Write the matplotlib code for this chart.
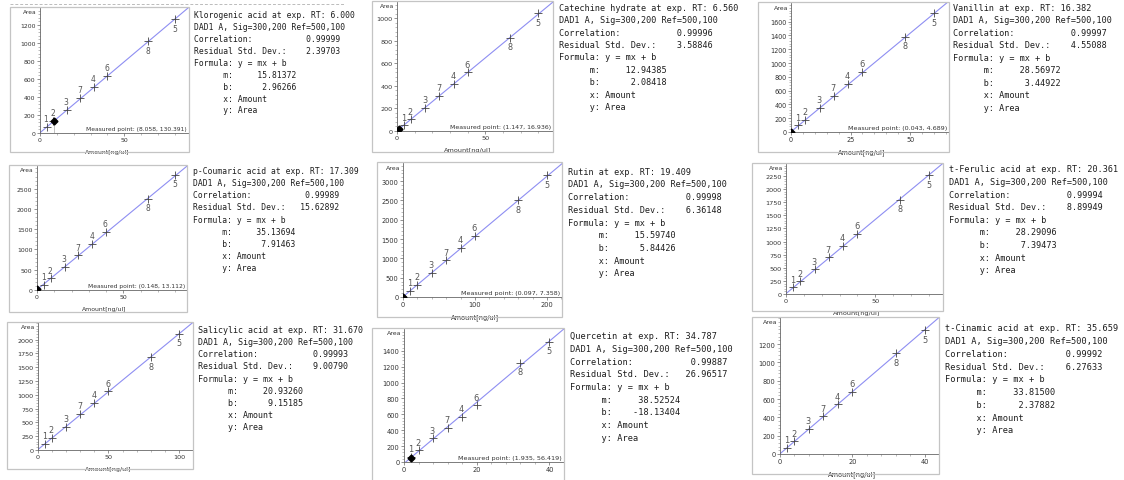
import numpy as np
import matplotlib
matplotlib.use("Agg")
import matplotlib.pyplot as plt
from matplotlib.ticker import FixedLocator, MultipleLocator
from matplotlib.patches import Rectangle
from matplotlib.lines import Line2D

W, H = 1124, 481

# ---- calibration data ----
NAMES = ["Klorogenic acid", "Catechine hydrate", "Vanillin",
         "p-Coumaric acid", "Rutin", "t-Ferulic acid",
         "Salicylic acid", "Quercetin", "t-Cinamic acid"]
RT = ["6.000", "6.560", "16.382", "17.309", "19.409", "20.361",
      "31.670", "34.787", "35.659"]
CORR = ["0.99999", "0.99996", "0.99997", "0.99989", "0.99998", "0.99994",
        "0.99993", "0.99887", "0.99992"]
RSD = ["2.39703", "3.58846", "4.55088", "15.62892", "6.36148", "8.89949",
       "9.00790", "26.96517", "6.27633"]
SLOPE = [15.81372, 12.94385, 28.56972, 35.13694, 15.59740, 28.29096,
         20.93260, 38.52524, 33.81500]
INTERCEPT = [2.96266, 2.08418, 3.44922, 7.91463, 5.84426, 7.39473,
             9.15185, -18.13404, 2.37882]

# level numbers in order of increasing amount
LEVELS = [1, 2, 3, 7, 4, 6, 8, 5]
AMOUNTS = [
    [4, 8, 16, 24, 32, 40, 64, 80],
    [4, 8, 16, 24, 32, 40, 64, 80],
    [3, 6, 12, 18, 24, 30, 48, 60],
    [4, 8, 16, 24, 32, 40, 64, 80],
    [10, 20, 40, 60, 80, 100, 160, 200],
    [4, 8, 16, 24, 32, 40, 64, 80],
    [5, 10, 20, 30, 40, 50, 80, 100],
    [2, 4, 8, 12, 16, 20, 32, 40],
    [2, 4, 8, 12, 16, 20, 32, 40],
]
AREAS = [
    [70, 133, 259, 389, 515, 637, 1018, 1267],
    [50, 104, 207, 314, 420, 521, 825, 1044],
    [97, 175, 350, 524, 699, 874, 1383, 1723],
    [125, 289, 565, 860, 1145, 1440, 2250, 2850],
    [158, 310, 630, 950, 1270, 1580, 2510, 3150],
    [127, 241, 469, 697, 919, 1147, 1800, 2269],
    [109, 224, 423, 653, 852, 1063, 1680, 2103],
    [63, 147, 298, 433, 572, 715, 1253, 1517],
    [67, 139, 274, 412, 544, 682, 1099, 1350],
]
MEASURED = [(8.058, 130.391), (1.147, 16.936), (0.043, 4.689),
            (0.148, 13.112), (0.097, 7.358), None,
            None, (1.935, 56.419), None]

XLIM = [88.3, 88.3, 66.3, 86.8, 221, 87.9, 110, 44, 44]
YLIM = [1390, 1145, 1870, 3060, 3470, 2480, 2300, 1675, 1485]
XSTEP = [50, 50, 25, 50, 100, 50, 50, 20, 20]
YSTEP = [200, 200, 200, 500, 500, 250, 250, 200, 200]
YTOP = [1200, 1000, 1600, 2500, 3000, 2250, 2000, 1400, 1200]   # highest labelled y tick

# ---- layout in screenshot pixels: (left, top, right, bottom) ----
AX_PX = [(40, 9, 189, 134), (397, 3, 553, 132), (791, 4, 949, 133),
         (37, 167, 187, 291), (403, 164, 562, 298), (786, 165, 943, 295),
         (38, 324, 193, 451), (404, 330, 564, 463), (780, 319, 939, 455)]
BOX_PX = [(10, 8, 189, 153), (372, 2, 553, 153), (758, 3, 949, 153),
          (9, 166, 187, 313), (377, 163, 562, 318), (752, 164, 943, 312),
          (7, 323, 193, 470), (372, 329, 564, 490), (752, 318, 939, 475)]
TXT_PX = [(194, 15.7), (559, 8.3), (953, 8.3),
          (193, 171.7), (568, 172.3), (949, 170),
          (198, 330.7), (570, 336.7), (945, 329)]
CHAR_W = [4.82, 5.1, 5.13, 4.84, 5.16, 5.09, 5.03, 5.18, 5.2]
LINE_H = [11.9, 12.4, 12.5, 12.1, 12.7, 12.6, 12.1, 12.7, 12.75]

LINE_COL = "#8e8ef2"
MONO = "DejaVu Sans Mono"


def px_rect(l, t, r, b):
    return [l / W, 1 - b / H, (r - l) / W, (b - t) / H]


def text_block(i):
    return [
        f"{NAMES[i]} at exp. RT: {RT[i]}",
        "DAD1 A, Sig=300,200 Ref=500,100",
        "Correlation:" + CORR[i].rjust(18),
        "Residual Std. Dev.:" + RSD[i].rjust(11),
        "Formula: y = mx + b",
        "      m:" + f"{SLOPE[i]:.5f}".rjust(13),
        "      b:" + f"{INTERCEPT[i]:.5f}".rjust(13),
        "      x: Amount",
        "      y: Area",
    ]


def draw_panel(fig, i):
    l, t, r, b = AX_PX[i]
    w_px, h_px = r - l, b - t
    scale = CHAR_W[i] / 4.9
    small = 4.5 * scale

    bl, bt, br, bb = BOX_PX[i]
    fig.add_artist(Rectangle((bl / W, 1 - bb / H), (br - bl) / W, (bb - bt) / H,
                             transform=fig.transFigure, fill=False,
                             ec="#c4c4c4", lw=0.9))

    ax = fig.add_axes(px_rect(l, t, r, b))
    ax.patch.set_alpha(0)
    m, c = SLOPE[i], INTERCEPT[i]
    xmax = XLIM[i]
    ax.plot([0, xmax], [c, m * xmax + c], color=LINE_COL, lw=0.8, zorder=1)
    ax.plot(AMOUNTS[i], AREAS[i], ls="none", marker="+", ms=5.5, mew=0.6,
            color="#444444", zorder=3)
    for lvl, x, y in zip(LEVELS, AMOUNTS[i], AREAS[i]):
        if lvl in (5, 8):
            ax.annotate(str(lvl), (x, y), xytext=(0, -3.2), textcoords="offset points",
                        ha="center", va="top", fontsize=5.6 * scale, color="#555555")
        else:
            ax.annotate(str(lvl), (x, y), xytext=(-0.5, 2.6), textcoords="offset points",
                        ha="center", va="bottom", fontsize=5.6 * scale, color="#555555")

    mp = MEASURED[i]
    if mp is not None:
        mx, my = mp
        ax.plot([mx, mx], [0, my], color="#aaaaaa", lw=0.5, zorder=2)
        ax.plot(mx, my, marker="D", ms=3.5, color="black", zorder=4)
        ax.text(1 - 2 / w_px, 2 / h_px, f"Measured point: ({mx:.3f}, {my:.3f})",
                transform=ax.transAxes, ha="right", va="bottom",
                fontsize=small * 0.97, color="#333333")

    ax.set_xlim(0, xmax)
    ax.set_ylim(0, YLIM[i])
    ax.xaxis.set_major_locator(MultipleLocator(XSTEP[i]))
    ax.xaxis.set_minor_locator(MultipleLocator(XSTEP[i] / 5))
    ax.yaxis.set_major_locator(FixedLocator(np.arange(0, YTOP[i] + 1, YSTEP[i])))
    ax.yaxis.set_minor_locator(MultipleLocator(YSTEP[i] / 5))
    ax.tick_params(which="major", direction="out", length=2.2, width=0.5,
                   labelsize=small, pad=1, color="#666666", labelcolor="#333333")
    ax.tick_params(which="minor", direction="out", length=1.2, width=0.4,
                   color="#888888")
    for s in ("top", "right"):
        ax.spines[s].set_visible(False)
    for s in ("left", "bottom"):
        ax.spines[s].set_color("#666666")
        ax.spines[s].set_linewidth(0.6)

    ax.text(-3 / w_px, 1 - 4 / h_px, "Area", transform=ax.transAxes,
            ha="right", va="center", fontsize=small * 0.95, color="#333333")
    ax.set_xlabel("Amount[ng/ul]", fontsize=small, color="#333333")
    ax.xaxis.set_label_coords(0.45, -16 / h_px)

    # text report next to the plot
    tx, ty = TXT_PX[i]
    fs = CHAR_W[i] / 0.602 * 0.72
    for k, line in enumerate(text_block(i)):
        fig.text(tx / W, 1 - (ty + k * LINE_H[i]) / H, line, family=MONO,
                 fontsize=fs, ha="left", va="center", color="#1e1e1e")


def main():
    fig = plt.figure(figsize=(W / 100, H / 100), dpi=100)
    fig.patch.set_facecolor("white")
    # dashed separator at the very top
    fig.add_artist(Line2D([10 / W, 345 / W], [1 - 5 / H, 1 - 5 / H],
                          transform=fig.transFigure, color="#bbbbbb",
                          lw=0.7, ls=(0, (3, 2))))
    for i in range(len(NAMES)):
        draw_panel(fig, i)
    fig.savefig("out.png", dpi=100)


if __name__ == "__main__":
    main()
